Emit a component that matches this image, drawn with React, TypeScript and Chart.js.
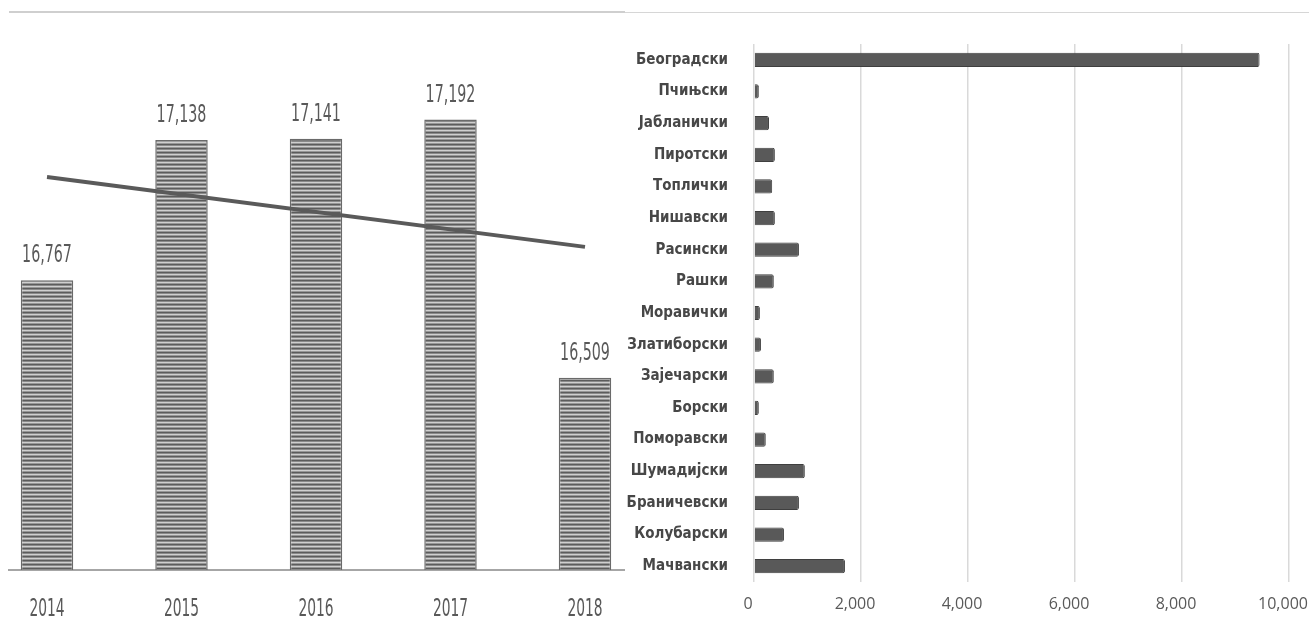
import React, { useEffect, useRef } from "react";
import { Chart, registerables } from "chart.js";

Chart.register(...registerables);

const years = [2014, 2015, 2016, 2017, 2018];
const totals = [16767, 17138, 17141, 17192, 16509];
const trendYears = [2014, 2018];
const trendValues = [17040, 16855];

const regions = [
  "Београдски",
  "Пчињски",
  "Јабланички",
  "Пиротски",
  "Топлички",
  "Нишавски",
  "Расински",
  "Рашки",
  "Моравички",
  "Златиборски",
  "Зајечарски",
  "Борски",
  "Поморавски",
  "Шумадијски",
  "Браничевски",
  "Колубарски",
  "Мачвански",
];
const regionValues = [9450, 90, 280, 390, 340, 390, 840, 370, 110, 130, 370, 90, 220, 950, 840, 560, 1700];
const regionTicks = [0, 2000, 4000, 6000, 8000, 10000];

const CONDENSED = '"DejaVu Sans Condensed", "Open Sans", sans-serif';
const GREY_TEXT = "#595959";

function makeStripePattern(): CanvasPattern | string {
  const c = document.createElement("canvas");
  c.width = 4;
  c.height = 4;
  const g = c.getContext("2d");
  if (!g) return "#8a8a8a";
  const rows = ["#5c5c5c", "#8a8a8a", "#cfcfcf", "#979797"];
  rows.forEach((col, i) => {
    g.fillStyle = col;
    g.fillRect(0, i, 4, 1);
  });
  const ctx = document.createElement("canvas").getContext("2d");
  const p = ctx ? ctx.createPattern(c, "repeat") : null;
  return p || "#8a8a8a";
}

function drawSquished(ctx: CanvasRenderingContext2D, text: string, x: number, y: number, sx: number) {
  ctx.save();
  ctx.translate(x, y);
  ctx.scale(sx, 1);
  ctx.fillText(text, 0, 0);
  ctx.restore();
}

const leftTextPlugin = {
  id: "leftTexts",
  afterDraw(chart: any) {
    const ctx = chart.ctx as CanvasRenderingContext2D;
    const meta = chart.getDatasetMeta(0);
    const xScale = chart.scales.x;
    ctx.save();
    ctx.font = `24px ${CONDENSED}`;
    ctx.fillStyle = GREY_TEXT;
    ctx.textAlign = "center";
    ctx.textBaseline = "alphabetic";
    meta.data.forEach((el: any, i: number) => {
      drawSquished(ctx, totals[i].toLocaleString("en-US"), el.x, el.y - 18, 0.66);
    });
    years.forEach((yr) => {
      drawSquished(ctx, String(yr), xScale.getPixelForValue(yr), 616, 0.64);
    });
    ctx.restore();
  },
};

function LeftChart() {
  const ref = useRef<HTMLCanvasElement>(null);
  useEffect(() => {
    if (!ref.current) return;
    const pattern = makeStripePattern();
    const chart = new Chart(ref.current, {
      type: "bar",
      data: {
        datasets: [
          {
            type: "bar",
            data: years.map((y, i) => ({ x: y, y: totals[i] })),
            backgroundColor: pattern as any,
            borderColor: "#6a6a6a",
            borderWidth: 1.5,
            barPercentage: 0.39,
            categoryPercentage: 1,
            order: 2,
          } as any,
          {
            type: "line",
            data: trendYears.map((y, i) => ({ x: y, y: trendValues[i] })),
            borderColor: "#5a5a5a",
            borderWidth: 4,
            pointRadius: 0,
            fill: false,
            order: 1,
          } as any,
        ],
      },
      options: {
        animation: false,
        responsive: false,
        layout: { padding: { left: 9, right: 16, top: 22, bottom: 0 } },
        plugins: { legend: { display: false }, tooltip: { enabled: false } },
        scales: {
          x: {
            type: "linear",
            offset: false,
            min: 2013.7175,
            max: 2018.29,
            grid: { display: false, drawTicks: false, offset: false },
            border: { display: true, color: "#a6a6a6", width: 2 },
            afterBuildTicks: (scale: any) => {
              scale.ticks = years.map((v) => ({ value: v }));
            },
            afterFit: (scale: any) => {
              scale.height = 64;
              scale.paddingLeft = 0;
              scale.paddingRight = 0;
            },
            ticks: { display: false },
          },
          y: {
            display: false,
            min: 16000,
            max: 17450,
          },
        },
      },
      plugins: [leftTextPlugin],
    } as any);
    return () => chart.destroy();
  }, []);
  return (
    <canvas
      ref={ref}
      width={640}
      height={634}
      style={{ position: "absolute", left: 0, top: 0, width: 640, height: 634 }}
    />
  );
}

function RightChart() {
  const ref = useRef<HTMLCanvasElement>(null);
  useEffect(() => {
    if (!ref.current) return;
    const chart = new Chart(ref.current, {
      type: "bar",
      data: {
        labels: regions,
        datasets: [
          {
            data: regionValues,
            backgroundColor: "#595959",
            borderColor: "#3f3f3f",
            borderWidth: 1,
            borderRadius: 2,
            barPercentage: 0.45,
            categoryPercentage: 1,
          },
        ],
      },
      options: {
        animation: false,
        responsive: false,
        indexAxis: "y",
        layout: { padding: { left: 0, right: 20, top: 44, bottom: 0 } },
        plugins: { legend: { display: false }, tooltip: { enabled: false } },
        scales: {
          x: {
            type: "linear",
            min: regionTicks[0],
            max: regionTicks[regionTicks.length - 1],
            grid: { display: true, color: "#d9d9d9", lineWidth: 1.5, drawTicks: false },
            border: { display: false },
            afterBuildTicks: (scale: any) => {
              scale.ticks = regionTicks.map((v) => ({ value: v }));
            },
            afterFit: (scale: any) => {
              scale.height = 52;
              scale.paddingLeft = 0;
              scale.paddingRight = 0;
            },
            ticks: {
              padding: 13,
              labelOffset: -6,
              color: GREY_TEXT,
              font: { family: '"Open Sans", sans-serif', size: 16 },
              callback: (v: any) => Number(v).toLocaleString("en-US"),
              maxRotation: 0,
            },
          },
          y: {
            type: "category",
            grid: { display: false, drawTicks: false },
            border: { display: false },
            afterFit: (scale: any) => {
              scale.width = 134;
            },
            ticks: {
              padding: 26,
              color: "#474747",
              font: { family: CONDENSED, size: 15, weight: "bold" },
              autoSkip: false,
            },
          },
        },
      },
    } as any);
    return () => chart.destroy();
  }, []);
  return (
    <canvas
      ref={ref}
      width={689}
      height={634}
      style={{ position: "absolute", left: 620, top: 0, width: 689, height: 634 }}
    />
  );
}

export default function App() {
  return (
    <div
      style={{
        position: "fixed",
        left: 0,
        top: 0,
        width: 1309,
        height: 634,
        background: "#ffffff",
        overflow: "hidden",
      }}
    >
      <div
        style={{
          position: "absolute",
          left: 9,
          top: 11,
          width: 616,
          height: 0,
          borderTop: "2px solid #cfcfcf",
        }}
      />
      <div
        style={{
          position: "absolute",
          left: 625,
          top: 12,
          width: 684,
          height: 0,
          borderTop: "1px solid #d6d6d6",
        }}
      />
      <LeftChart />
      <RightChart />
    </div>
  );
}
